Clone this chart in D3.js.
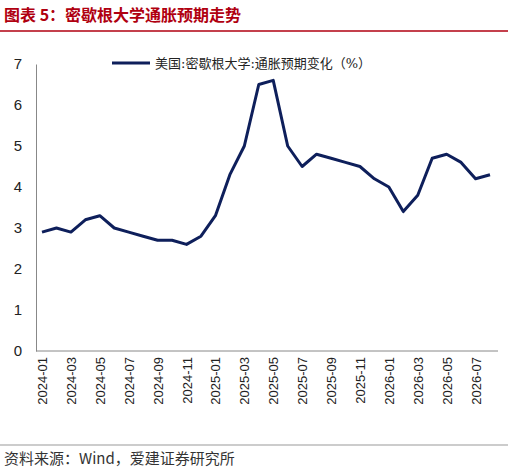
<!DOCTYPE html>
<html><head><meta charset="utf-8">
<script src="https://cdn.jsdelivr.net/npm/d3@7"></script>
<style>body{margin:0;background:#fff;font-family:"Noto Sans CJK SC",sans-serif}</style>
</head><body><div id="chart"></div>
<script>
const months = d3.range(32).map(i => { const y = 2024 + Math.floor(i / 12), m = i % 12 + 1; return y + "-" + String(m).padStart(2, "0"); });
const values = [2.9,3.0,2.9,3.2,3.3,3.0,2.9,2.8,2.7,2.7,2.6,2.8,
  3.3,4.3,5.0,6.5,6.6,5.0,4.5,4.8,4.7,4.6,4.5,4.2,
  4.0,3.4,3.8,4.7,4.8,4.6,4.2,4.3];
const yTicks = [0,1,2,3,4,5,6,7];
const seriesName = "美国:密歇根大学:通胀预期变化（%）";

const W = 508, H = 470;
const svg = d3.select("#chart").append("svg").attr("width", W).attr("height", H);
const red = "#b00010";

svg.append("text").attr("x", 4).attr("y", 21).text("图表 5：密歇根大学通胀预期走势")
  .style("font-size", "16px").style("font-weight", "bold").style("fill", red);
svg.append("line").attr("x1", 0).attr("x2", W).attr("y1", 31).attr("y2", 31).style("stroke", red).style("stroke-width", 1.5);

const x = d3.scalePoint().domain(months).range([42, 490]);
const y = d3.scaleLinear().domain([0, 7]).range([351, 64]);

const ax = svg.append("g").attr("transform", "translate(36,0)")
  .call(d3.axisLeft(y).tickValues(yTicks).tickFormat(d3.format("d")).tickSize(0).tickPadding(14));
ax.select(".domain").style("stroke", "#888");
ax.selectAll("text").style("font-size", "15px").style("fill", "#222").style("font-family", "Liberation Sans, sans-serif");

svg.append("line").attr("x1", 36).attr("x2", 498).attr("y1", 351).attr("y2", 351).style("stroke", "#888");
const bx = svg.append("g").attr("transform", "translate(0,351)")
  .call(d3.axisBottom(x).tickValues(months.filter((d, i) => i % 2 === 0)).tickSize(0).tickPadding(6));
bx.select(".domain").remove();
bx.selectAll("text").attr("transform", "rotate(-90)").attr("text-anchor", "end")
  .attr("x", -6).attr("y", 0).attr("dy", "0.35em")
  .style("font-size", "13px").style("fill", "#222").style("font-family", "Liberation Sans, sans-serif");

const line = d3.line().x((d, i) => x(months[i])).y(d => y(d));
svg.append("path").datum(values).attr("d", line)
  .style("fill", "none").style("stroke", "#0e1f5b").style("stroke-width", 3).style("stroke-linejoin", "round");

svg.append("line").attr("x1", 112).attr("x2", 150).attr("y1", 63).attr("y2", 63).style("stroke", "#0e1f5b").style("stroke-width", 3);
svg.append("text").attr("x", 155).attr("y", 68).text(seriesName).style("font-size", "13px").style("fill", "#222")
  .style("font-family", "DejaVu Serif, Noto Sans CJK SC, serif");

svg.append("line").attr("x1", 0).attr("x2", W).attr("y1", 445).attr("y2", 445).style("stroke", "#999");
svg.append("text").attr("x", 4).attr("y", 464).text("资料来源：Wind，爱建证券研究所").style("font-size", "15px").style("fill", "#333");
</script></body></html>
